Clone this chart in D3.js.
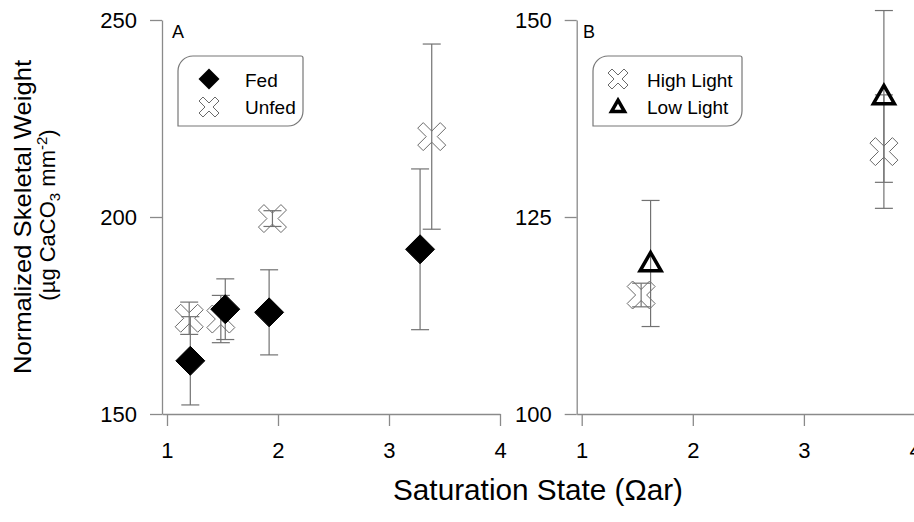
<!DOCTYPE html>
<html>
<head>
<meta charset="utf-8">
<script src="https://cdn.jsdelivr.net/npm/d3@7"></script>
<style>
  body { margin: 0; background: #fff; }
  text { font-family: "Liberation Sans", Arial, sans-serif; fill: #000; }
</style>
</head>
<body>
<svg id="chart" width="914" height="522"></svg>
<script>
// panel A : feeding
var fedX = [1.21, 1.525, 1.92, 3.28];
var fedY = [163.5, 176.6, 175.8, 191.8];
var fedErr = [11.2, 7.7, 10.8, 20.4];
var unfedX = [1.20, 1.485, 1.95, 3.385];
var unfedY = [174.3, 174.1, 199.6, 220.4];
var unfedErr = [4.1, 6.0, 2.0, 23.5];

// panel B : light
var highX = [1.535, 3.72];
var highY = [115.1, 133.3];
var highErr = [1.5, 7.2];
var lowX = [1.62, 3.72];
var lowY = [119.1, 140.3];
var lowErr = [8.0, 10.9];

var xTicks = [1, 2, 3, 4];
var yTicksA = [150, 200, 250];
var yTicksB = [100, 125, 150];

var svg = d3.select("#chart");
var axisColor = "#8a8a8a";
var barColor = "#727272";

function rows(xs, ys, es) {
  return xs.map(function(x, i) { return {x: x, y: ys[i], e: es[i]}; });
}

// outlined X symbol
function crossPath(s, d) {
  var p = [[-s, -s + d], [-s + d, -s], [0, -d], [s - d, -s], [s, -s + d], [d, 0],
           [s, s - d], [s - d, s], [0, d], [-s + d, s], [-s, s - d], [-d, 0]];
  return "M" + p.map(function(q) { return q[0] + "," + q[1]; }).join("L") + "Z";
}
function diamondPath(r) {
  return "M0," + (-r) + "L" + r + ",0L0," + r + "L" + (-r) + ",0Z";
}
function trianglePath(w) {
  var h = w * 0.87;
  return "M0," + (-h * 0.6) + "L" + (w / 2) + "," + (h * 0.4) + "L" + (-w / 2) + "," + (h * 0.4) + "Z";
}

function drawAxes(x, y, yTicks) {
  var gx = svg.append("g").attr("transform", "translate(0," + y.range()[0] + ")")
    .call(d3.axisBottom(x).tickValues(xTicks).tickFormat(d3.format("d"))
      .tickSize(12).tickSizeOuter(0).tickPadding(16));
  var gy = svg.append("g").attr("transform", "translate(" + x.range()[0] + ",0)")
    .call(d3.axisLeft(y).tickValues(yTicks).tickSize(12).tickSizeOuter(0).tickPadding(13));
  [gx, gy].forEach(function(g) {
    g.selectAll("path, line").attr("stroke", axisColor).attr("stroke-width", 1.3);
    g.selectAll("text").attr("font-size", 22).attr("fill", "#000")
      .attr("font-family", "Liberation Sans, Arial, sans-serif");
  });
}

function errorBars(data, x, y) {
  var g = svg.append("g").attr("stroke", barColor).attr("stroke-width", 1.2).attr("fill", "none");
  data.forEach(function(d) {
    var cx = x(d.x);
    g.append("line").attr("x1", cx).attr("x2", cx).attr("y1", y(d.y - d.e)).attr("y2", y(d.y + d.e));
    [d.y - d.e, d.y + d.e].forEach(function(v) {
      g.append("line").attr("x1", cx - 9).attr("x2", cx + 9).attr("y1", y(v)).attr("y2", y(v));
    });
  });
}

function symbols(data, x, y, path, style) {
  svg.append("g").selectAll("path").data(data).enter().append("path")
    .attr("d", path)
    .attr("transform", function(d) { return "translate(" + x(d.x) + "," + y(d.y) + ")"; })
    .attr("fill", style.fill).attr("stroke", style.stroke).attr("stroke-width", style.sw);
}

function legendBox(x0, y0, w, h) {
  var r = 15, s = 2;
  var p = "M" + (x0 + r) + "," + y0 + "L" + (x0 + w - s) + "," + y0 +
    "Q" + (x0 + w) + "," + y0 + " " + (x0 + w) + "," + (y0 + s) +
    "L" + (x0 + w) + "," + (y0 + h - r) +
    "A" + r + "," + r + " 0 0 1 " + (x0 + w - r) + "," + (y0 + h) +
    "L" + x0 + "," + (y0 + h) + "L" + x0 + "," + (y0 + r) +
    "A" + r + "," + r + " 0 0 1 " + (x0 + r) + "," + y0 + "Z";
  svg.append("path").attr("d", p).attr("fill", "#fff").attr("stroke", "#777").attr("stroke-width", 1.2);
}

var crossStyle = {fill: "none", stroke: "#6a6a6a", sw: 1};
var diamondStyle = {fill: "#000", stroke: "#000", sw: 1};
var triStyle = {fill: "none", stroke: "#000", sw: 3.5};

//////////// PANEL A ////////////
var xA = d3.scaleLinear().domain([0.955, 4]).range([162, 500]);
var yA = d3.scaleLinear().domain([150, 250]).range([414, 20]);
drawAxes(xA, yA, yTicksA);

var fed = rows(fedX, fedY, fedErr);
var unfed = rows(unfedX, unfedY, unfedErr);
errorBars(fed, xA, yA);
symbols(unfed, xA, yA, crossPath(14, 5.5), crossStyle);
errorBars(unfed, xA, yA);
symbols(fed, xA, yA, diamondPath(14.5), diamondStyle);

svg.append("text").attr("x", 172).attr("y", 38).attr("font-size", 18).text("A");
legendBox(178, 56, 125, 70);
svg.append("path").attr("d", diamondPath(10.5)).attr("transform", "translate(209,79)")
  .attr("fill", "#000");
svg.append("path").attr("d", crossPath(10, 4)).attr("transform", "translate(209,107)")
  .attr("fill", "none").attr("stroke", "#6a6a6a").attr("stroke-width", 1);
svg.append("text").attr("x", 245).attr("y", 86.5).attr("font-size", 19).text("Fed");
svg.append("text").attr("x", 245).attr("y", 114).attr("font-size", 19).text("Unfed");

//////////// PANEL B ////////////
var xB = d3.scaleLinear().domain([0.955, 4]).range([576.7, 915]);
var yB = d3.scaleLinear().domain([100, 150]).range([414, 20]);
drawAxes(xB, yB, yTicksB);

var high = rows(highX, highY, highErr);
var low = rows(lowX, lowY, lowErr);
errorBars(high, xB, yB);
symbols(high, xB, yB, crossPath(14, 5.5), crossStyle);
errorBars(low, xB, yB);
symbols(low, xB, yB, trianglePath(21), triStyle);

svg.append("text").attr("x", 583).attr("y", 38).attr("font-size", 18).text("B");
legendBox(593, 56, 149, 70);
svg.append("path").attr("d", crossPath(10, 4)).attr("transform", "translate(618,79)")
  .attr("fill", "none").attr("stroke", "#6a6a6a").attr("stroke-width", 1);
svg.append("path").attr("d", trianglePath(13)).attr("transform", "translate(618,107)")
  .attr("fill", "none").attr("stroke", "#000").attr("stroke-width", 3.5);
svg.append("text").attr("x", 647).attr("y", 86.5).attr("font-size", 19).text("High Light");
svg.append("text").attr("x", 647).attr("y", 114).attr("font-size", 19).text("Low Light");

//////////// AXIS TITLES ////////////
svg.append("text").attr("transform", "translate(31,217) rotate(-90)")
  .attr("text-anchor", "middle").attr("font-size", 24)
  .attr("textLength", 314).attr("lengthAdjust", "spacingAndGlyphs")
  .text("Normalized Skeletal Weight");
var t2 = svg.append("text").attr("transform", "translate(55,215) rotate(-90)")
  .attr("text-anchor", "middle").attr("font-size", 22);
t2.append("tspan").text("(\u00b5g CaCO");
t2.append("tspan").attr("font-size", 15).attr("dy", 5).text("3");
t2.append("tspan").attr("dy", -5).text(" mm");
t2.append("tspan").attr("font-size", 15).attr("dy", -8).text("-2");
t2.append("tspan").attr("dy", 8).text(")");

svg.append("text").attr("x", 538).attr("y", 500).attr("text-anchor", "middle")
  .attr("font-size", 29).attr("textLength", 290).attr("lengthAdjust", "spacingAndGlyphs")
  .text("Saturation State (\u03a9ar)");
</script>
</body>
</html>
